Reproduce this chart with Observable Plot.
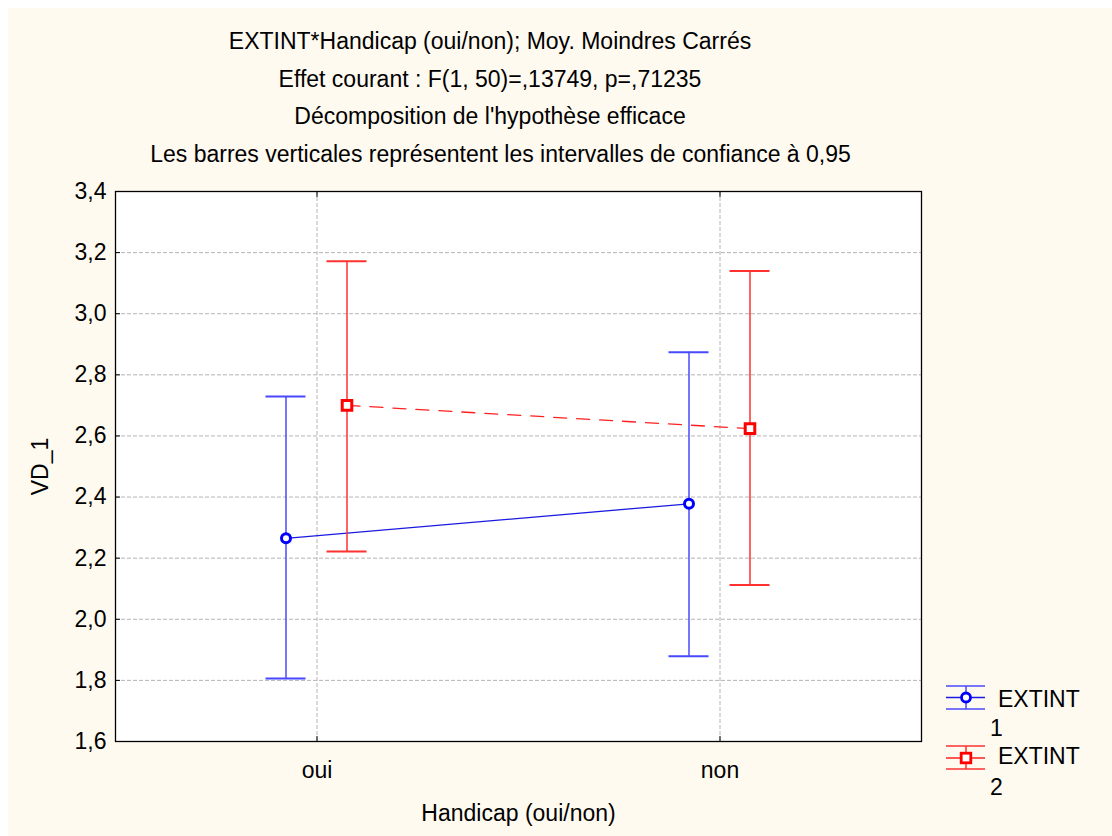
<!DOCTYPE html>
<html><head><meta charset="utf-8">
<script src="https://cdn.jsdelivr.net/npm/d3@7"></script>
<script src="https://cdn.jsdelivr.net/npm/@observablehq/plot@0.6"></script>
<style>
body{margin:0;background:#fff;font-family:"Liberation Sans",Arial,sans-serif;}
#wrap{position:relative;width:1112px;height:836px;background:#fff;overflow:hidden}
#bg{position:absolute;left:8px;top:8px;right:0;bottom:0;background:#fffaf0}
.t{position:absolute;left:0;width:980px;text-align:center;font-size:23px;color:#000;line-height:1;white-space:nowrap}
#chart{position:absolute;left:0;top:170px}
.lg{position:absolute;font-size:23px;line-height:1;color:#000;white-space:nowrap}
.sym{position:absolute}
</style></head>
<body>
<div id="wrap">
  <div id="bg"></div>
  <div class="t" style="top:30px">EXTINT*Handicap (oui/non); Moy. Moindres Carrés</div>
  <div class="t" style="top:68px">Effet courant : F(1, 50)=,13749, p=,71235</div>
  <div class="t" style="top:105px">Décomposition de l'hypothèse efficace</div>
  <div class="t" style="top:143px;width:1001px">Les barres verticales représentent les intervalles de confiance à 0,95</div>
  <div id="chart"></div>
  <svg class="sym" style="left:944px;top:682px" width="44" height="92">
    <g stroke="#4848ff" stroke-width="1.5">
      <line x1="2" x2="41" y1="4" y2="4"/><line x1="2" x2="41" y1="27" y2="27"/>
      <line x1="22" x2="22" y1="4" y2="27"/><line x1="2" x2="41" y1="15.5" y2="15.5" stroke="#1a1ae0"/>
    </g>
    <circle cx="22" cy="15.5" r="4.5" fill="white" stroke="#0000ff" stroke-width="2.8"/>
    <g stroke="#ff3030" stroke-width="1.5">
      <line x1="2" x2="41" y1="64" y2="64"/><line x1="2" x2="41" y1="87" y2="87"/>
      <line x1="22" x2="22" y1="64" y2="87"/><line x1="2" x2="41" y1="76" y2="76" stroke="#ff2020"/>
    </g>
    <rect x="17.2" y="71.2" width="9.6" height="9.6" fill="white" stroke="#ff0000" stroke-width="2.8"/>
  </svg>
  <div class="lg" style="left:998px;top:688px">EXTINT</div>
  <div class="lg" style="left:990px;top:717px">1</div>
  <div class="lg" style="left:998px;top:745px">EXTINT</div>
  <div class="lg" style="left:990px;top:776px">2</div>
</div>
<script>
const categories = ["oui", "non"];
const yTicks = [1.6, 1.8, 2.0, 2.2, 2.4, 2.6, 2.8, 3.0, 3.2, 3.4];
// EXTINT 1
const mean1  = [2.265, 2.378];
const lower1 = [1.806, 1.879];
const upper1 = [2.729, 2.874];
// EXTINT 2
const mean2  = [2.700, 2.624];
const lower2 = [2.222, 2.112];
const upper2 = [3.172, 3.140];

const d1 = categories.map((c, i) => ({cat: c, mean: mean1[i], lo: lower1[i], hi: upper1[i]}));
const d2 = categories.map((c, i) => ({cat: c, mean: mean2[i], lo: lower2[i], hi: upper2[i]}));

const fmt = d => d.toFixed(1).replace(".", ",");
const blueBar = "#4848ff", blueLine = "#1a1ae0", blue = "#0000ff";
const redBar = "#ff3030", redLine = "#ff2020", red = "#ff0000";
const off1 = -31, off2 = 30;
const W = 1112, ML = 115, MR = 191;
const band = (W - ML - MR) / categories.length;
const capInset = (band - 40) / 2;

const chart = Plot.plot({
  width: W,
  height: 666,
  marginTop: 21,
  marginBottom: 95,
  marginLeft: ML,
  marginRight: MR,
  style: {fontSize: "23px", fontFamily: "'Liberation Sans', Arial, sans-serif", background: "transparent", color: "#000"},
  x: {type: "band", domain: categories, padding: 0},
  y: {domain: [1.6, 3.4]},
  marks: [
    Plot.frame({fill: "white"}),
    Plot.gridY(yTicks, {stroke: "#b4b4b4", strokeOpacity: 1, strokeDasharray: "4,2"}),
    Plot.gridX(categories, {stroke: "#b4b4b4", strokeOpacity: 1, strokeDasharray: "4,2"}),
    Plot.axisY(yTicks, {tickFormat: fmt, tickSize: 0, tickPadding: 9, label: "VD_1", labelAnchor: "center", labelOffset: 84, labelArrow: "none"}),
    Plot.axisY(yTicks, {tickFormat: () => "", tickSize: 5, dx: 5, label: null}),
    Plot.axisX(categories, {tickSize: 0, tickPadding: 20, label: "Handicap (oui/non)", labelAnchor: "center", labelOffset: 79, labelArrow: "none"}),
    Plot.axisX(categories, {tickFormat: () => "", tickSize: 5, dy: -5, label: null}),
    Plot.axisX(categories, {anchor: "top", tickFormat: () => "", tickSize: 5, dy: 5, label: null}),
    // EXTINT 1
    Plot.ruleX(d1, {x: "cat", y1: "lo", y2: "hi", stroke: blueBar, strokeWidth: 1.5, dx: off1}),
    Plot.tickY(d1, {x: "cat", y: "hi", stroke: blueBar, strokeWidth: 2, insetLeft: capInset, insetRight: capInset, dx: off1}),
    Plot.tickY(d1, {x: "cat", y: "lo", stroke: blueBar, strokeWidth: 2, insetLeft: capInset, insetRight: capInset, dx: off1}),
    Plot.line(d1, {x: "cat", y: "mean", stroke: blueLine, strokeWidth: 1.3, dx: off1}),
    Plot.dot(d1, {x: "cat", y: "mean", r: 4.5, fill: "white", stroke: blue, strokeWidth: 3, dx: off1}),
    // EXTINT 2
    Plot.ruleX(d2, {x: "cat", y1: "lo", y2: "hi", stroke: redBar, strokeWidth: 1.5, dx: off2}),
    Plot.tickY(d2, {x: "cat", y: "hi", stroke: redBar, strokeWidth: 2, insetLeft: capInset, insetRight: capInset, dx: off2}),
    Plot.tickY(d2, {x: "cat", y: "lo", stroke: redBar, strokeWidth: 2, insetLeft: capInset, insetRight: capInset, dx: off2}),
    Plot.line(d2, {x: "cat", y: "mean", stroke: redLine, strokeWidth: 1.3, strokeDasharray: "13,10", dx: off2}),
    Plot.dot(d2, {x: "cat", y: "mean", symbol: "square", r: 5.4, fill: "white", stroke: red, strokeWidth: 3, dx: off2}),
    Plot.frame({stroke: "#000", strokeWidth: 1.3})
  ]
});
document.getElementById("chart").appendChild(chart);
</script>
</body></html>
